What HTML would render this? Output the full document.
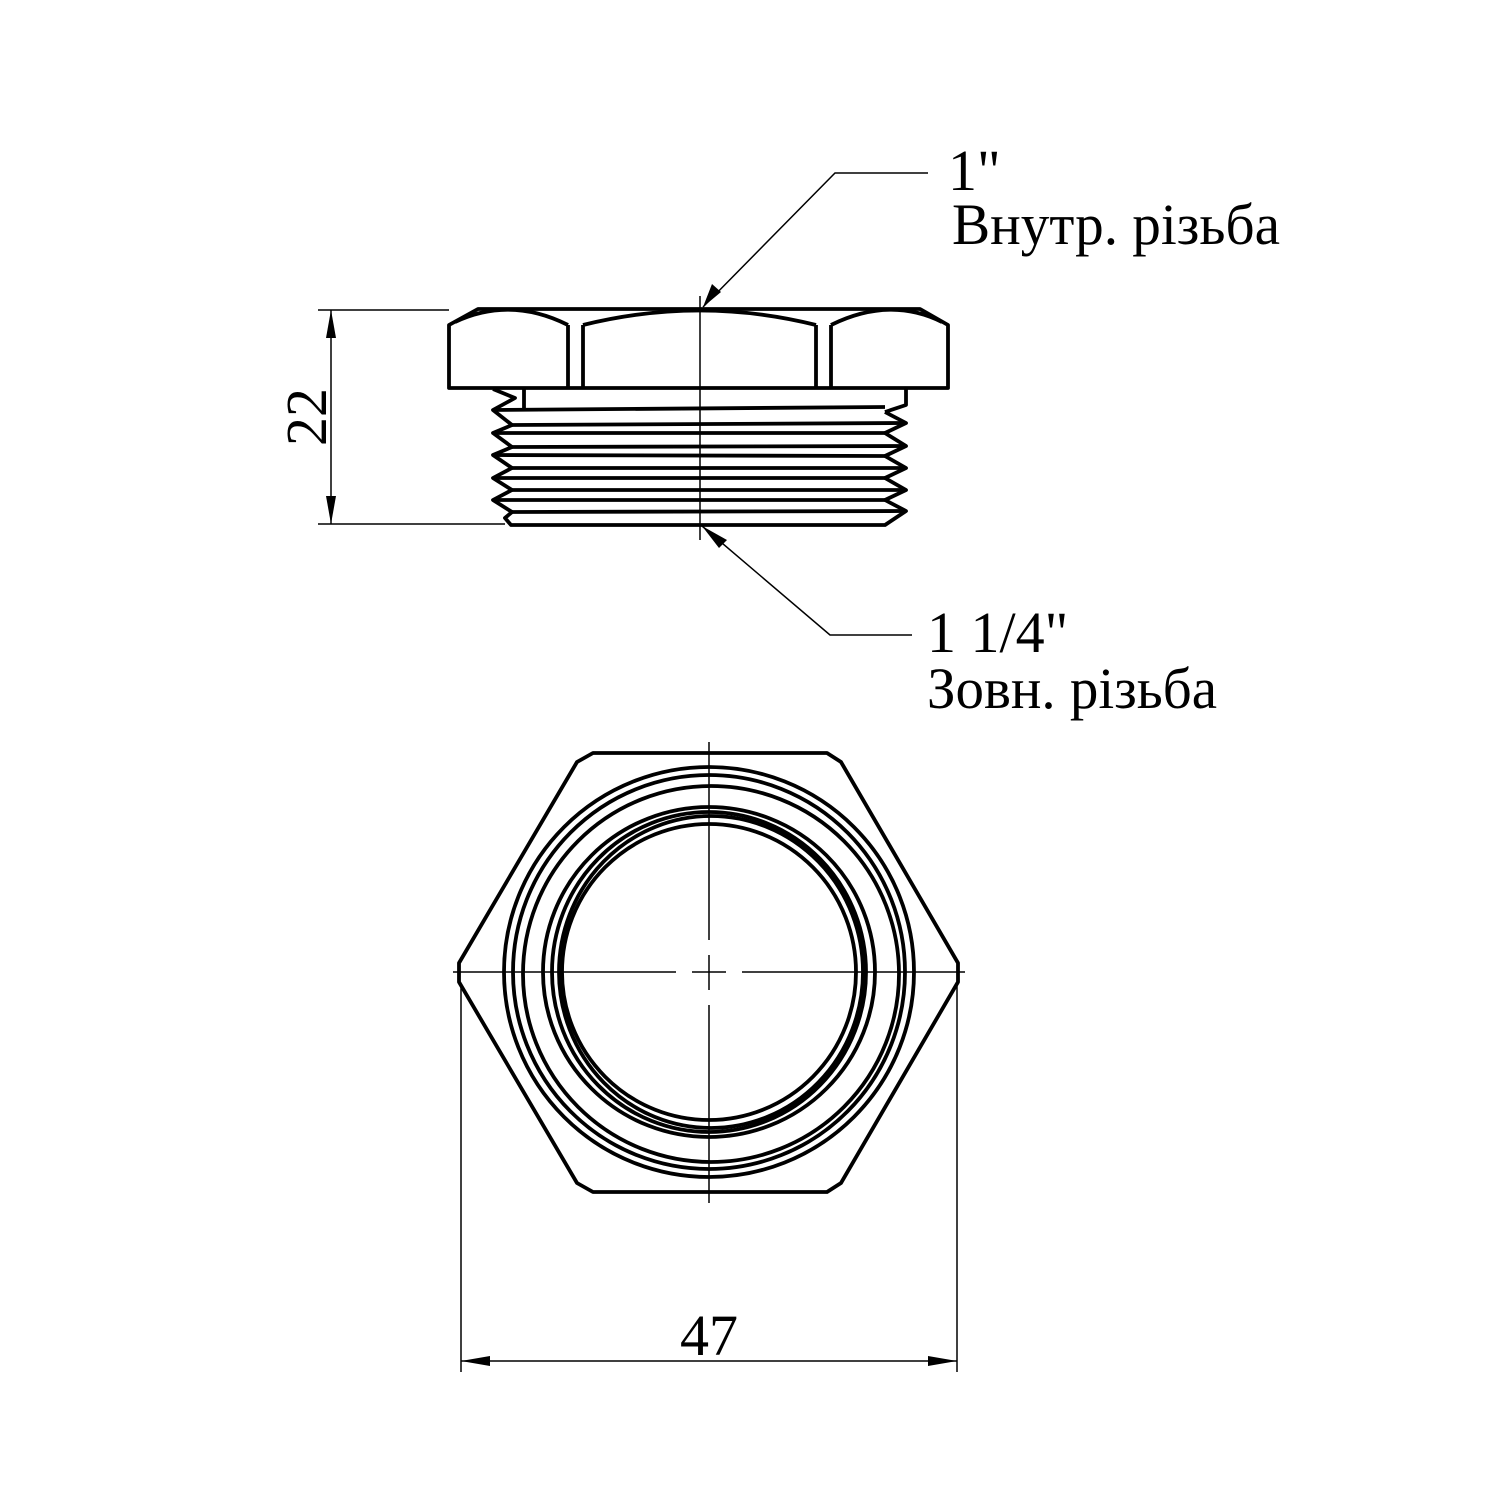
<!DOCTYPE html>
<html><head><meta charset="utf-8"><style>
html,body{margin:0;padding:0;background:#fff;}
svg{display:block;}
text{font-family:"Liberation Serif","DejaVu Serif",serif;fill:#000;}
</style></head><body>
<svg width="1500" height="1500" viewBox="0 0 1500 1500" xmlns="http://www.w3.org/2000/svg">
<rect width="1500" height="1500" fill="#fff"/>
<g fill="none" stroke="#000" stroke-width="3.8" stroke-linejoin="round">
  <path d="M449,388 L449,325 L478,309 L920,309 L948,325 L948,388 Z"/>
  <path d="M455,322 Q510,296 568,325"/>
  <path d="M583,325 Q700,296 816,325"/>
  <path d="M831,325 Q890,296 942,322"/>
  <line x1="568" y1="325" x2="568" y2="388"/>
  <line x1="583" y1="325" x2="583" y2="388"/>
  <line x1="816" y1="325" x2="816" y2="388"/>
  <line x1="831" y1="325" x2="831" y2="388"/>
  <line x1="524" y1="389" x2="524" y2="409"/>
  <polyline points="906,388 906,405 885,412"/>
  <polyline points="493,389 515,398 493,410 512,425 493,433 512,447 493,455 512,468 493,478 512,490 493,500 512,512 505,518 511,525 885,525 906,511 885,500 906,490 885,478 906,468 885,456 906,446 885,433 906,423 885,412"/>
  <line x1="493" y1="410" x2="885" y2="407"/>
  <line x1="512" y1="425" x2="906" y2="423"/>
  <line x1="493" y1="433" x2="885" y2="433"/>
  <line x1="512" y1="447" x2="906" y2="446"/>
  <line x1="493" y1="455" x2="885" y2="456"/>
  <line x1="512" y1="468" x2="906" y2="468"/>
  <line x1="493" y1="478" x2="885" y2="478"/>
  <line x1="512" y1="490" x2="906" y2="490"/>
  <line x1="493" y1="500" x2="885" y2="500"/>
  <line x1="512" y1="512" x2="906" y2="511"/>
  <polygon points="593,753 827,753 841,762 958,963 958,982 841,1183 827,1192 593,1192 577,1183 459,982 459,963 577,762"/>
  <ellipse cx="709" cy="972" rx="205" ry="205"/>
  <ellipse cx="709" cy="972" rx="196" ry="197"/>
  <ellipse cx="711" cy="974" rx="188" ry="188"/>
  <ellipse cx="709" cy="972" rx="166" ry="165"/>
  <ellipse cx="709" cy="972" rx="157" ry="160"/>
  <ellipse cx="711" cy="972" rx="152" ry="156"/>
  <ellipse cx="709" cy="972" rx="147" ry="148"/>
</g>
<g stroke="#000" stroke-width="1.5" fill="none">
  <line x1="700" y1="296" x2="700" y2="540"/>
  <line x1="709" y1="742" x2="709" y2="940"/>
  <line x1="709" y1="955" x2="709" y2="990"/>
  <line x1="709" y1="1005" x2="709" y2="1203"/>
  <line x1="453" y1="972" x2="676" y2="972"/>
  <line x1="692" y1="972" x2="726" y2="972"/>
  <line x1="742" y1="972" x2="965" y2="972"/>
  <line x1="318" y1="310" x2="449" y2="310"/>
  <line x1="318" y1="524" x2="505" y2="524"/>
  <line x1="331" y1="310" x2="331" y2="524"/>
  <line x1="461" y1="985" x2="461" y2="1372"/>
  <line x1="957" y1="985" x2="957" y2="1372"/>
  <line x1="461" y1="1361" x2="957" y2="1361"/>
  <polyline points="703,307 835,173 928,173"/>
  <polyline points="702,526 830,635 912,635"/>
</g>
<g fill="#000">
  <polygon points="331,310 326,338 336,338"/>
  <polygon points="331,524 326,496 336,496"/>
  <polygon points="461,1361 490,1356 490,1366"/>
  <polygon points="957,1361 928,1356 928,1366"/>
  <polygon points="703,307 712,284 721,292"/>
  <polygon points="702,526 727,540 719,548"/>
</g>
<text x="948" y="190" font-size="58">1"</text>
<text x="952" y="244" font-size="58" textLength="328" lengthAdjust="spacingAndGlyphs">Внутр. різьба</text>
<text x="927" y="652" font-size="58">1 1/4"</text>
<text x="927" y="708" font-size="58" textLength="290" lengthAdjust="spacingAndGlyphs">Зовн. різьба</text>
<text x="709" y="1355" font-size="58" text-anchor="middle">47</text>
<text transform="translate(326,417) rotate(-90)" font-size="58" text-anchor="middle">22</text>
</svg>
</body></html>
